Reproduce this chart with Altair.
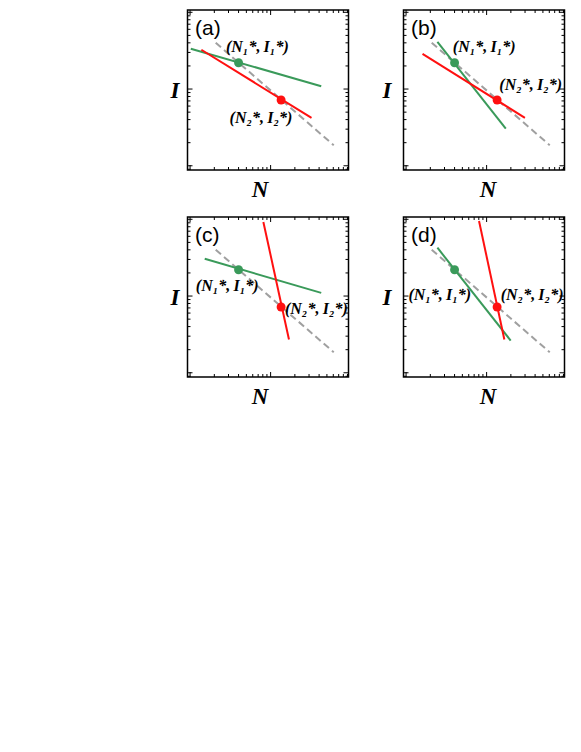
import altair as alt
import pandas as pd

# ---------------- data ----------------
panel_letters = ["(a)", "(b)", "(c)", "(d)"]

# dashed grey reference line (same in every panel)
dash_N = [0.208, 6.08]
dash_I = [4.01, 0.185]

# green line end points per panel
green_N = [[0.102, 4.25], [0.245, 1.73], [0.152, 4.25], [0.245, 1.99]]
green_I = [[3.35, 1.09], [4.13, 0.306], [3.06, 1.10], [4.26, 0.263]]

# red line end points per panel
red_N = [[0.138, 3.22], [0.160, 2.99], [0.813, 1.69], [0.805, 1.66]]
red_I = [[3.25, 0.421], [2.88, 0.421], [9.23, 0.271], [9.50, 0.271]]

# equilibrium points
pt1_N, pt1_I = 0.40, 2.20
pt2_N, pt2_I = 1.35, 0.72

# label positions per panel
lab1_N = [0.684, 0.933, 0.289, 0.262]
lab1_I = [3.52, 3.52, 1.35, 1.03]
lab2_N = [0.759, 3.53, 3.70, 3.67]
lab2_I = [0.421, 1.12, 0.668, 1.03]
label1 = "(N\u2081*,\u2009I\u2081*)"
label2 = "(N\u2082*,\u2009I\u2082*)"

# axis tick values (log axes, no labels)
decades = [0.01, 0.1, 1, 10]
multipliers = [2, 3, 4, 5, 6, 7, 8, 9]

x_dom = [10 ** -1.032, 10 ** 0.967]
y_dom = [10 ** -1.055, 10 ** 1.03]

W, H = 161, 160
GREEN = "#3a9a5a"
RED = "#ff1010"
GREY = "#a0a0a0"

major_ticks = [0.1, 1, 10]
minor_ticks = [d * m for d in decades for m in multipliers]

xticks_major = pd.DataFrame({"v": [v for v in major_ticks if x_dom[0] <= v <= x_dom[1]]})
xticks_minor = pd.DataFrame({"v": [v for v in minor_ticks if x_dom[0] <= v <= x_dom[1]]})
yticks_major = pd.DataFrame({"v": [v for v in major_ticks if y_dom[0] <= v <= y_dom[1]]})
yticks_minor = pd.DataFrame({"v": [v for v in minor_ticks if y_dom[0] <= v <= y_dom[1]]})

xs = alt.Scale(type="log", domain=x_dom, nice=False, zero=False)
ys = alt.Scale(type="log", domain=y_dom, nice=False, zero=False)

TITLE_FONT = "Liberation Serif"


def make_axes(col):
    x_title_x = 72 if col == 0 else 84
    y_title_x = -13 if col == 0 else -17
    xa = alt.Axis(title="N", labels=False, ticks=False, domain=False, grid=False,
                  titleFont=TITLE_FONT, titleFontStyle="italic", titleFontWeight="bold",
                  titleFontSize=23, titleColor="black", titleX=x_title_x, titleY=26,
                  titleAlign="center", titleBaseline="alphabetic")
    ya = alt.Axis(title="I", labels=False, ticks=False, domain=False, grid=False,
                  titleFont=TITLE_FONT, titleFontStyle="italic", titleFontWeight="bold",
                  titleFontSize=23, titleColor="black", titleAngle=0, titleX=y_title_x,
                  titleY=H / 2, titleAlign="center", titleBaseline="middle")
    return xa, ya


def panel(i):
    col = i % 2
    xa, ya = make_axes(col)

    def X(f):
        return alt.X(f, type="quantitative", scale=xs, axis=xa)

    def Y(f):
        return alt.Y(f, type="quantitative", scale=ys, axis=ya)

    layers = []
    # ticks on four sides, inward
    for df, ln in [(xticks_major, 5), (xticks_minor, 3)]:
        layers.append(alt.Chart(df).mark_rule(color="black", strokeWidth=1).encode(
            x=X("v"), y=alt.value(H), y2=alt.value(H - ln)))
        layers.append(alt.Chart(df).mark_rule(color="black", strokeWidth=1).encode(
            x=X("v"), y=alt.value(0), y2=alt.value(ln)))
    for df, ln in [(yticks_major, 5), (yticks_minor, 3)]:
        layers.append(alt.Chart(df).mark_rule(color="black", strokeWidth=1).encode(
            y=Y("v"), x=alt.value(0), x2=alt.value(ln)))
        layers.append(alt.Chart(df).mark_rule(color="black", strokeWidth=1).encode(
            y=Y("v"), x=alt.value(W), x2=alt.value(W - ln)))

    dash_df = pd.DataFrame({"N": dash_N, "I": dash_I})
    layers.append(alt.Chart(dash_df).mark_line(color=GREY, strokeWidth=2, strokeDash=[7, 4]).encode(
        x=X("N"), y=Y("I")))

    g_df = pd.DataFrame({"N": green_N[i], "I": green_I[i]})
    r_df = pd.DataFrame({"N": red_N[i], "I": red_I[i]})
    layers.append(alt.Chart(g_df).mark_line(color=GREEN, strokeWidth=2).encode(x=X("N"), y=Y("I")))
    layers.append(alt.Chart(r_df).mark_line(color=RED, strokeWidth=2).encode(x=X("N"), y=Y("I")))

    p_df = pd.DataFrame({"N": [pt1_N, pt2_N], "I": [pt1_I, pt2_I], "c": ["g", "r"]})
    layers.append(alt.Chart(p_df).mark_circle(size=80, opacity=1).encode(
        x=X("N"), y=Y("I"),
        color=alt.Color("c:N", scale=alt.Scale(domain=["g", "r"], range=[GREEN, RED]), legend=None)))

    l_df = pd.DataFrame({"N": [lab1_N[i], lab2_N[i]], "I": [lab1_I[i], lab2_I[i]],
                         "t": [label1, label2]})
    layers.append(alt.Chart(l_df).mark_text(font=TITLE_FONT, fontStyle="italic", fontWeight="bold",
                                            fontSize=16, align="center", baseline="middle",
                                            color="black").encode(
        x=X("N"), y=Y("I"), text="t:N"))

    letter_df = pd.DataFrame({"t": [panel_letters[i]]})
    layers.append(alt.Chart(letter_df).mark_text(font="Liberation Sans", fontSize=21, align="left",
                                                 baseline="alphabetic", color="black").encode(
        x=alt.value(7.5), y=alt.value(25), text="t:N"))

    return alt.layer(*layers).properties(width=W, height=H)


chart = alt.concat(
    *[panel(i) for i in range(4)], columns=2, spacing={"row": 47, "column": 55}, bounds="flush"
).properties(
    padding={"left": 160.5, "top": 0, "right": 0, "bottom": 0}
).configure_view(
    stroke="black", strokeWidth=1.5
)

chart.save("out.html", embed_options={"renderer": "svg", "actions": False})
